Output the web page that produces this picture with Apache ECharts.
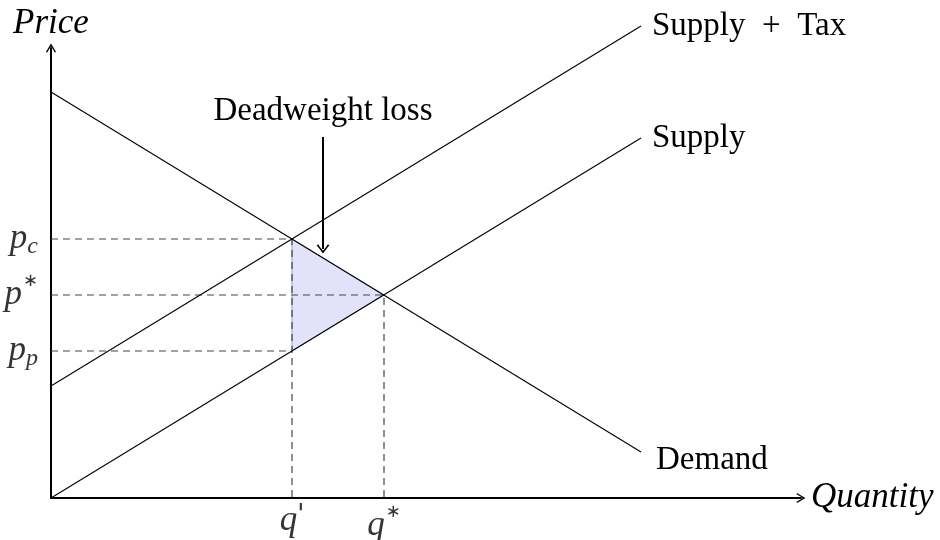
<!DOCTYPE html>
<html>
<head>
<meta charset="utf-8">
<script src="https://cdn.jsdelivr.net/npm/echarts@6/dist/echarts.min.js"></script>
<style>
html,body{margin:0;padding:0;background:#fff;}
#main{width:940px;height:540px;}
</style>
</head>
<body>
<div id="main"></div>
<script>
// ---- data (arbitrary units) ----
const demand = [[0, 40.6], [59, 4.6]];
const supply = [[0, 0], [59, 36.0]];
const supplyTax = [[0, 11.2], [59, 47.2]];
const qPrime = 24.1, qStar = 33.3;
const pC = 25.9, pStar = 20.3, pP = 14.7;
const dwl = [[qPrime, pC], [qStar, pStar], [qPrime, pP]];
const arrowFrom = [27.2, 36.1], arrowTo = [27.2, 24.9];
const yTickLabels = ['{m|p}{s|c}', '{m|p}{u|∗}', '{m|p}{s|p}'];
const yTickValues = [pC, pStar, pP];
const xTickLabels = ['{m|q}{pr|\'}', '{m|q}{u|∗}'];
const xTickValues = [qPrime, qStar];
const seriesNames = ['Supply\u2002+\u2002Tax', 'Supply', 'Demand'];

const SERIF = '"Liberation Serif", "DejaVu Serif", serif';
const FS = 33;
const FM = 35;
const chev = 'path://M0,10 Q3,5 6,0 Q9,5 12,10 L10.4,10.6 Q8,6 6,3.2 Q4,6 1.6,10.6 Z';
const rich = {
  m: {fontFamily: SERIF, fontStyle: 'italic', fontSize: FM, color: '#000'},
  s: {fontFamily: SERIF, fontStyle: 'italic', fontSize: 24, color: '#000', padding: [15, 0, 0, 0]},
  u: {fontFamily: '"DejaVu Sans", sans-serif', fontSize: 18, color: '#000', padding: [0, 0, 28, 1]},
  pr: {fontFamily: '"DejaVu Sans", sans-serif', fontStyle: 'italic', fontSize: 26, color: '#000', padding: [0, 0, 8, 0]}
};

const chart = echarts.init(document.getElementById('main'), null, {renderer: 'canvas'});
const lineSeries = (name, data, labelOffset) => ({
  name, type: 'line', data, showSymbol: false, symbol: 'none', clip: false, z: 5,
  lineStyle: {color: '#000', width: 1.1},
  endLabel: {show: true, formatter: '{a}', distance: 11, offset: labelOffset,
    fontFamily: SERIF, fontSize: FS, color: '#000'},
  emphasis: {disabled: true}, silent: true
});
const dashStyle = {color: '#444', width: 1.2, type: [7, 5]};
const dash = data => ({type: 'line', data, showSymbol: false, symbol: 'none', z: 3,
  lineStyle: dashStyle, silent: true, emphasis: {disabled: true}});

chart.setOption({
  animation: false,
  grid: {left: 51, top: 48, width: 750, height: 450, containLabel: false},
  xAxis: {
    type: 'value', min: 0, max: 75, splitLine: {show: false}, axisTick: {show: false},
    axisLabel: {show: false},
    axisLine: {lineStyle: {color: '#000', width: 2}, symbol: ['none', chev], symbolSize: [13, 9]},
    name: 'Quantity', nameLocation: 'end', nameGap: 10,
    nameTextStyle: {fontFamily: SERIF, fontStyle: 'italic', fontSize: FM, color: '#000', align: 'left', verticalAlign: 'middle'}
  },
  yAxis: {
    type: 'value', min: 0, max: 45, splitLine: {show: false}, axisTick: {show: false},
    axisLabel: {show: false},
    axisLine: {lineStyle: {color: '#000', width: 2}, symbol: ['none', chev], symbolSize: [13, 9]},
    name: 'Price', nameLocation: 'end', nameGap: 7,
    nameTextStyle: {fontFamily: SERIF, fontStyle: 'italic', fontSize: FM, color: '#000', align: 'center'}
  },
  series: [
    {
      type: 'custom', z: 1, silent: true, clip: false,
      renderItem: (params, api) => {
        const pts = dwl.map(p => api.coord(p));
        return {type: 'polygon', shape: {points: pts},
          style: {fill: 'rgb(226,226,250)', stroke: '#8a8aa8', lineWidth: 0.8}};
      },
      data: [0]
    },
    dash([[0, pC], [qPrime, pC], [qPrime, 0]]),
    dash([[0, pStar], [qStar, pStar], [qStar, 0]]),
    dash([[0, pP], [qPrime, pP]]),
    lineSeries(seriesNames[0], supplyTax, [0, 0]),
    lineSeries(seriesNames[1], supply, [0, 0]),
    lineSeries(seriesNames[2], demand, [4, 8]),
    {
      type: 'scatter', symbolSize: 0, silent: true, z: 6,
      data: yTickValues.map((v, i) => ({value: [0, v], label: {formatter: yTickLabels[i]}})),
      label: {show: true, position: 'left', distance: 13, rich}
    },
    {
      type: 'scatter', symbolSize: 0, silent: true, z: 6,
      data: xTickValues.map((v, i) => ({value: [v, 0], label: {formatter: xTickLabels[i]}})),
      label: {show: true, position: 'bottom', distance: 5, rich}
    },
    {
      type: 'line', data: [], silent: true,
      markLine: {
        silent: true, symbol: ['none', chev], symbolSize: [13, 9],
        lineStyle: {color: '#000', width: 2, type: 'solid'},
        label: {show: true, position: 'start', distance: 9, formatter: 'Deadweight loss',
          fontFamily: SERIF, fontSize: FS, color: '#000'},
        data: [[{coord: arrowFrom}, {coord: arrowTo}]]
      }
    }
  ]
});
</script>
</body>
</html>
